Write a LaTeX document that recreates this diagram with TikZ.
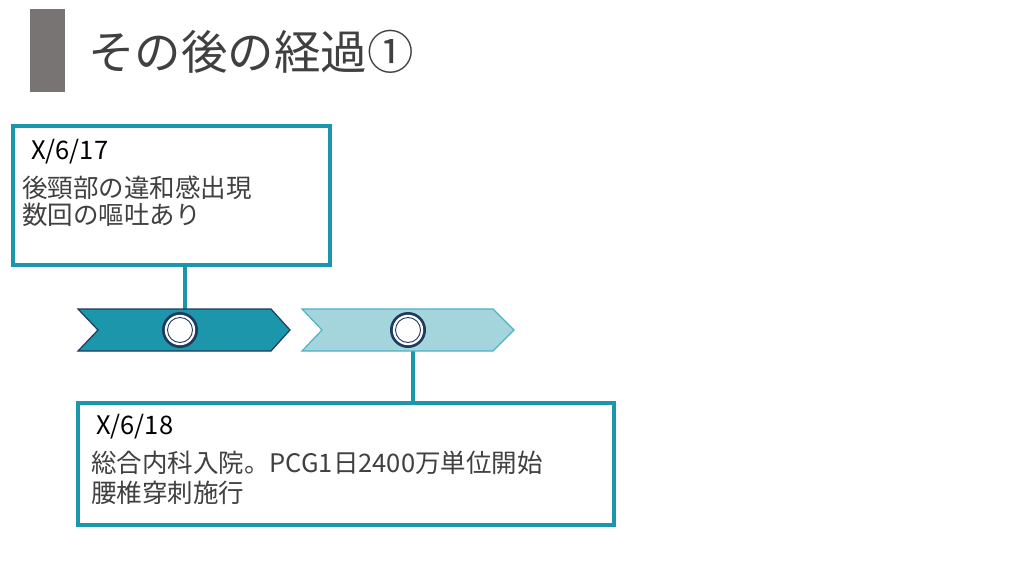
\documentclass[tikz,border=0pt]{standalone}
\usepackage{fontspec}
\setmainfont{Noto Sans CJK JP}
\usetikzlibrary{calc}
\definecolor{teal1}{HTML}{1B96AA}
\definecolor{teallight}{HTML}{A5D5DC}
\definecolor{tealedge}{HTML}{4BB3C3}
\definecolor{navy}{HTML}{1F3A5F}
\definecolor{txtgray}{HTML}{404040}
\definecolor{bargray}{HTML}{787474}
\tikzset{
  evbox/.style={draw=teal1, line width=3.2pt, fill=white, inner sep=0pt},
  link/.style={draw=teal1, line width=3.2pt},
  datetxt/.style={anchor=west, inner sep=0pt, text=black, font=\fontsize{25.5}{27}\selectfont},
  bodytxt/.style={anchor=west, inner sep=0pt, text=txtgray, font=\fontsize{25.5}{27}\selectfont},
}
\begin{document}
\begin{tikzpicture}[x=1pt,y=-1pt]
\useasboundingbox[fill=white] (0,0) rectangle (1024,576);
% title
\fill[bargray] (30,9) rectangle (65,92);
\node[anchor=west, inner sep=0pt, text=txtgray, font=\fontsize{46.5}{50}\selectfont] (title) at (88,52) {その後の経過①};
% connectors (behind)
\coordinate (k1) at (185,312);
\coordinate (k2) at (413,346);
% box 1
\node[evbox, minimum width=317pt, minimum height=139pt] (box1) at (171.5,195.5) {};
\draw[link] (box1.south -| k1) -- (k1);
% box 2
\node[evbox, minimum width=536pt, minimum height=122pt] (box2) at (346,464) {};
\draw[link] (k2) -- (box2.north -| k2);
% chevrons
\draw[fill=teal1, draw=navy, line width=1.2pt] (78,309) -- (271,309) -- (290,330) -- (271,351) -- (78,351) -- (98,330) -- cycle;
\draw[fill=teallight, draw=tealedge, line width=1.2pt] (302,309) -- (493,309) -- (514,330) -- (493,351) -- (302,351) -- (322,330) -- cycle;
% circles
\foreach \n/\cx in {c1/180, c2/408}{
  \node[circle, fill=navy, minimum size=36pt, inner sep=0pt] (\n) at (\cx,330) {};
  \fill[white] (\n.center) circle (15.2pt);
  \draw[navy, line width=0.9pt, fill=white] (\n.center) circle (12.5pt);
}
% texts
\node[datetxt] (d1) at (31,152) {X/6/17};
\node[bodytxt] (t1a) at (22,188) {後頸部の違和感出現};
\node[bodytxt] (t1b) at (22,215) {数回の嘔吐あり};
\node[datetxt] (d2) at (96,427) {X/6/18};
\node[bodytxt] (t2a) at (91,463) {総合内科入院。PCG1日2400万単位開始};
\node[bodytxt] (t2b) at (91,493) {腰椎穿刺施行};
\end{tikzpicture}
\end{document}
